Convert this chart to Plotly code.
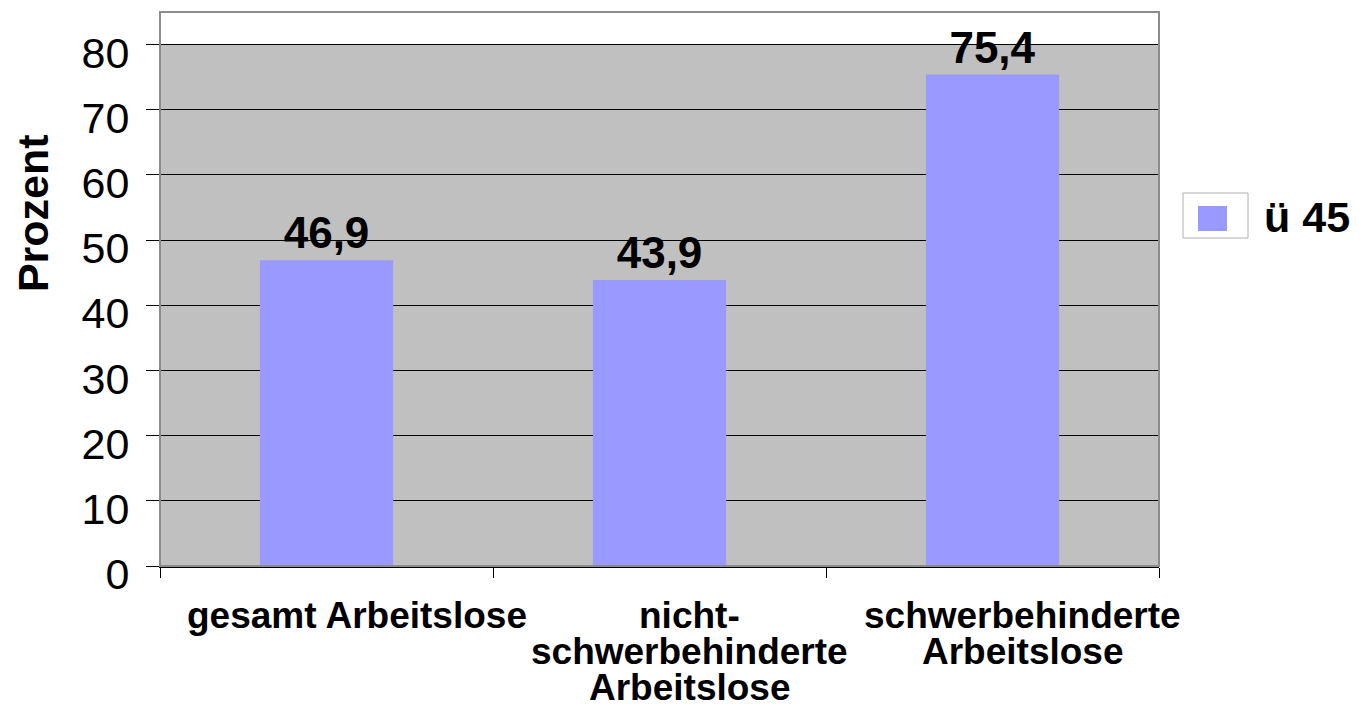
import plotly.graph_objects as go

categories = ["gesamt Arbeitslose", "nicht-\nschwerbehinderte\nArbeitslose", "schwerbehinderte\nArbeitslose"]
values = [46.9, 43.9, 75.4]
series_name = "ü 45"
y_title = "Prozent"
y_ticks = [0, 10, 20, 30, 40, 50, 60, 70, 80]

FONT = "Liberation Sans, Arial, sans-serif"
BAR_COLOR = "#9999FF"
BG_GRAY = "#C0C0C0"

# page body has an 8px margin; compensate so the plot lands where the reference has it
L, T, PW, PH = 152, 4, 999, 554

cat_keys = [c.replace("\n", " ") for c in categories]

fig = go.Figure()
fig.add_trace(go.Bar(
    x=cat_keys, y=values, name=series_name,
    marker=dict(color=BAR_COLOR, line=dict(width=0)),
    width=0.4,
    text=[f"{v:.1f}".replace(".", ",") for v in values],
    textposition="outside",
    textfont=dict(family=FONT, size=44, color="black", weight="bold"),
    cliponaxis=False,
    showlegend=False,
))

# gray plot background up to the top gridline
fig.add_shape(type="rect", xref="paper", yref="y", x0=0, x1=1, y0=0, y1=max(y_ticks),
              fillcolor=BG_GRAY, line=dict(width=0), layer="below")
# frame
fig.add_shape(type="rect", xref="paper", yref="paper", x0=0, x1=1, y0=0, y1=1,
              line=dict(color="#8c8c8c", width=2), layer="above")

# category labels, one annotation per line (tight line spacing as in the reference)
for key, label in zip(cat_keys, categories):
    for i, line in enumerate(label.split("\n")):
        fig.add_annotation(x=key, xref="x", y=0, yref="paper", yanchor="top",
                           text=line, showarrow=False, xshift=30, yshift=-27 - 36 * i,
                           font=dict(family=FONT, size=37, color="black", weight="bold"))

# y-axis title
fig.add_annotation(x=0, xref="paper", xshift=-127, y=0.637, yref="paper",
                   text=y_title, textangle=-90, showarrow=False,
                   xanchor="center", yanchor="middle",
                   font=dict(family=FONT, size=43, color="black", weight="bold"))

# legend (manual), positions in reference pixels relative to the plot area
def px(x):
    return (x - 160) / PW

def py(y):
    return (566 - y) / PH

fig.add_shape(type="rect", xref="paper", yref="paper",
              x0=px(1183), x1=px(1248), y0=py(238), y1=py(193),
              line=dict(color="#b0b0b0", width=1), fillcolor="white")
fig.add_shape(type="rect", xref="paper", yref="paper",
              x0=px(1198), x1=px(1227), y0=py(231), y1=py(206),
              line=dict(width=0), fillcolor=BAR_COLOR)
fig.add_annotation(x=px(1262), xref="paper", y=py(217), yref="paper",
                   xanchor="left", yanchor="middle", text=series_name, showarrow=False,
                   font=dict(family=FONT, size=43, color="black", weight="bold"))

fig.update_layout(
    width=L + PW + 200, height=T + PH + 140,
    margin=dict(l=L, r=200, t=T, b=140),
    paper_bgcolor="white", plot_bgcolor="white",
    bargap=0.6,
    xaxis=dict(type="category", categoryorder="array", categoryarray=cat_keys,
               range=[-0.5, len(cat_keys) - 0.5], autorange=False,
               showticklabels=False, tickson="boundaries",
               ticks="outside", ticklen=10, tickcolor="black", tickwidth=1,
               showline=True, linecolor="black", linewidth=1.5,
               showgrid=False, zeroline=False),
    yaxis=dict(range=[0, 85], autorange=False, tickvals=y_ticks, ticks="outside", ticklen=13,
               tickcolor="black", tickwidth=1, showgrid=True, gridcolor="black",
               gridwidth=1, showline=True, linecolor="black", linewidth=1,
               zeroline=False, ticklabelshift=8, ticklabelstandoff=8,
               tickfont=dict(family=FONT, size=43, color="black")),
    showlegend=False,
)

fig.write_html("out.html")
